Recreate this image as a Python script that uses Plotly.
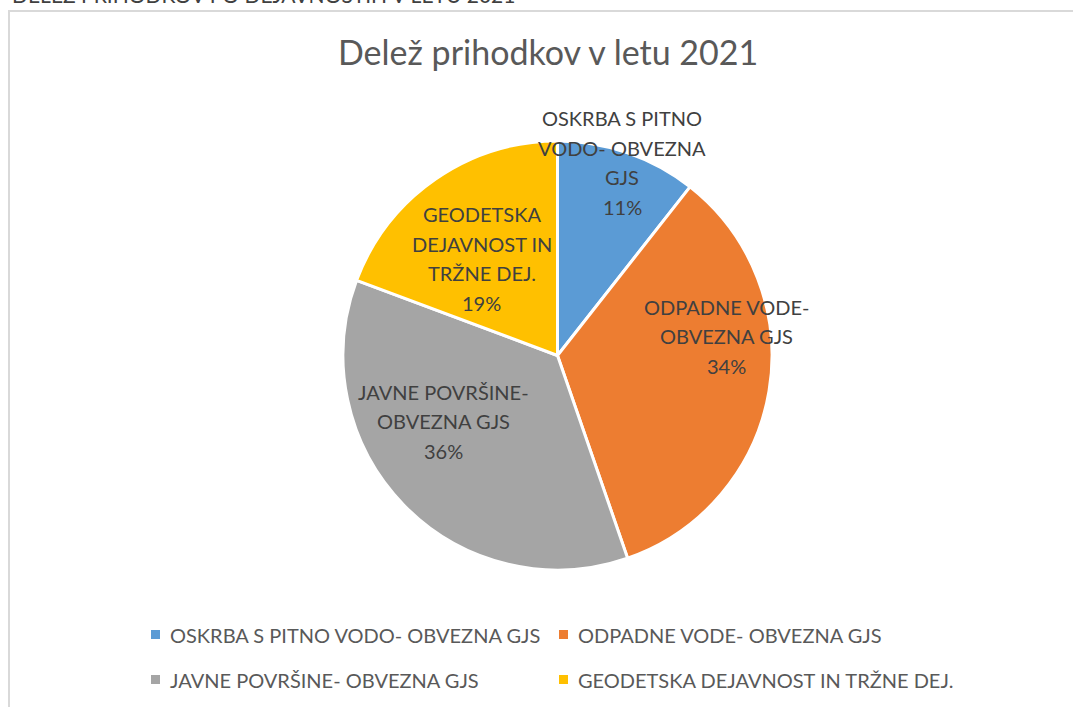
"""Delež prihodkov v letu 2021 - pie chart with Excel-like labels and legend."""
import math

import plotly.graph_objects as go

# data
categories = [
    "OSKRBA S PITNO VODO- OBVEZNA GJS",
    "ODPADNE VODE- OBVEZNA GJS",
    "JAVNE POVRŠINE- OBVEZNA GJS",
    "GEODETSKA DEJAVNOST IN TRŽNE DEJ.",
]
slice_labels = [
    ["OSKRBA S PITNO", "VODO- OBVEZNA", "GJS"],
    ["ODPADNE VODE-", "OBVEZNA GJS"],
    ["JAVNE POVRŠINE-", "OBVEZNA GJS"],
    ["GEODETSKA", "DEJAVNOST IN", "TRŽNE DEJ."],
]
values = [10.6, 34.1, 36.0, 19.3]
colors = ["#5B9BD5", "#ED7D31", "#A5A5A5", "#FFC000"]

W, H = 1073, 707
FONT = "Lato"

# pie geometry (pixels)
cx, cy, R = 557.5, 355.5, 214.5
# label placement tweaks (fraction of radius, angle shift in degrees)
label_r = [0.95, 0.795, 0.615, 0.573]
label_dtheta = [-0.5, -16.0, 14.5, -3.2]
line_gap = 29.5


def px(x, y):
    return x / W, 1 - y / H


fig = go.Figure(
    go.Pie(
        labels=categories,
        values=values,
        sort=False,
        direction="clockwise",
        rotation=0,
        marker=dict(colors=colors, line=dict(color="white", width=3)),
        textinfo="none",
        hoverinfo="label+percent",
        showlegend=False,
        domain=dict(x=[(cx - R) / W, (cx + R) / W], y=[1 - (cy + R) / H, 1 - (cy - R) / H]),
    )
)

annotations = []
shapes = []

# slice labels placed from the cumulative angles, one annotation per line
total = sum(values)
cum = 0.0
for i, v in enumerate(values):
    mid = (cum + v / 2) / total * 360 + label_dtheta[i]
    cum += v
    rr = label_r[i] * R
    lx = cx + rr * math.sin(math.radians(mid))
    ly = cy - rr * math.cos(math.radians(mid))
    lines = slice_labels[i] + [f"{round(v / total * 100)}%"]
    n = len(lines)
    for k, line in enumerate(lines):
        x, y = px(lx, ly + (k - (n - 1) / 2) * line_gap)
        annotations.append(
            dict(
                x=x, y=y, xref="paper", yref="paper", xanchor="center", yanchor="middle",
                text=line, showarrow=False,
                font=dict(family=FONT, size=20, color="#404040"),
            )
        )

# title
tx, ty = px(548, 51)
annotations.append(
    dict(x=tx, y=ty, xref="paper", yref="paper", xanchor="center", yanchor="middle",
         text="Delež prihodkov v letu 2021", showarrow=False,
         font=dict(family=FONT, size=34, color="#595959"))
)

# heading of the page above the chart, mostly cut off by the top edge
hx, hy = px(10, 9)
annotations.append(
    dict(x=hx, y=hy, xref="paper", yref="paper", xanchor="left", yanchor="bottom",
         text="DELEŽ PRIHODKOV PO DEJAVNOSTIH V LETU 2021", showarrow=False,
         font=dict(family=FONT, size=21, color="#404040"))
)

# manual legend, 2 columns
col_x = [151, 559]
row_y = [634.5, 679.5]
sq = 9
for i, name in enumerate(categories):
    c, r = i % 2, i // 2
    x0, y0 = col_x[c], row_y[r]
    a0, b0 = px(x0, y0 - sq / 2)
    a1, b1 = px(x0 + sq, y0 + sq / 2)
    shapes.append(dict(type="rect", xref="paper", yref="paper", x0=a0, x1=a1, y0=b1, y1=b0,
                       fillcolor=colors[i], line=dict(width=0)))
    lx, ly = px(x0 + 17, y0)
    annotations.append(
        dict(x=lx, y=ly, xref="paper", yref="paper", xanchor="left", yanchor="middle",
             text=name, showarrow=False, font=dict(family=FONT, size=20, color="#595959"))
    )

# chart frame (left and top edges visible)
f0x, f0y = px(9, 11)
f1x, f1y = px(W + 20, H + 20)
shapes.append(dict(type="rect", xref="paper", yref="paper", x0=f0x, y0=f1y, x1=f1x, y1=f0y,
                   line=dict(color="#D9D9D9", width=2), fillcolor="rgba(0,0,0,0)", layer="below"))

fig.update_layout(
    width=W, height=H, autosize=False,
    margin=dict(l=0, r=0, t=0, b=0, pad=0),
    paper_bgcolor="white", plot_bgcolor="white",
    annotations=annotations, shapes=shapes,
    font=dict(family=FONT),
)

fig.write_html(
    "out.html",
    config={"displayModeBar": False},
    post_script="document.body.style.margin='0';document.body.style.overflow='hidden';",
)
